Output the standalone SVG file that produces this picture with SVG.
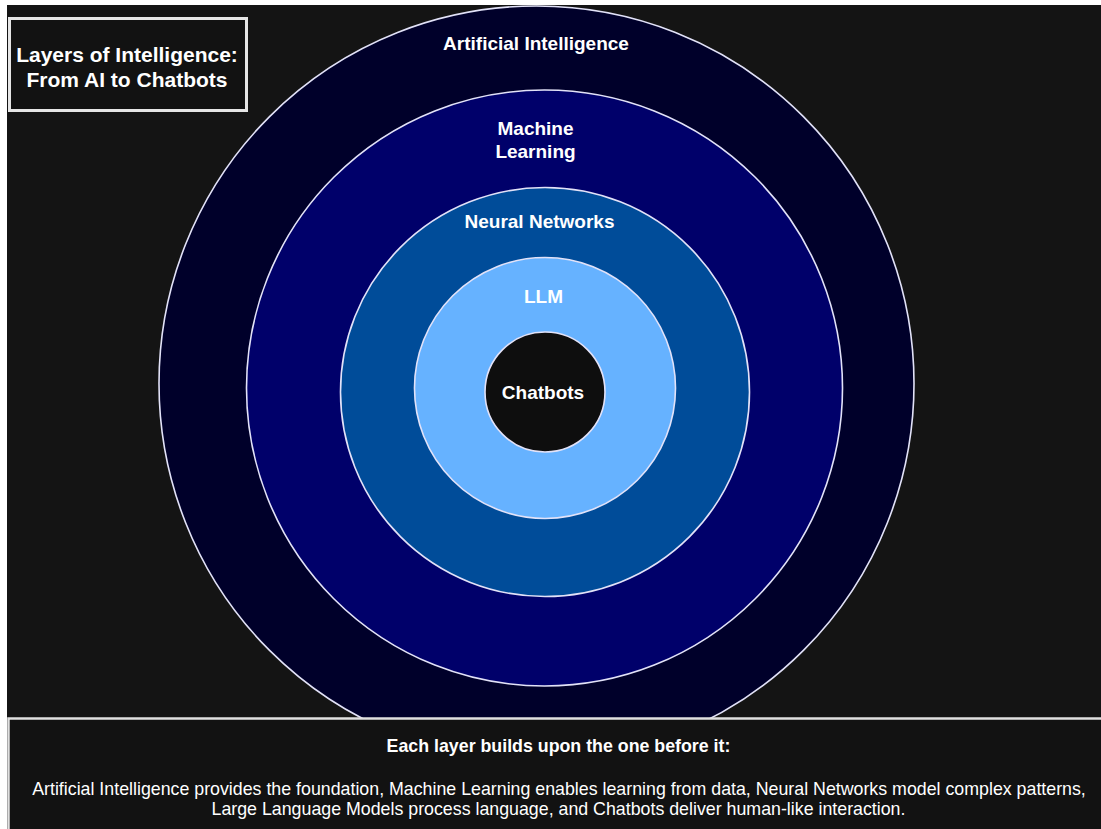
<svg xmlns="http://www.w3.org/2000/svg" width="1101" height="829" viewBox="0 0 1101 829">
  <style>
    .ring { stroke: #e2e2f8; stroke-width: 1.6; }
    .lbl { font-family: "Liberation Sans", Arial, sans-serif; font-weight: bold; font-size: 19px; fill: #ffffff; text-anchor: middle; }
    .title { font-family: "Liberation Sans", Arial, sans-serif; font-weight: bold; font-size: 21px; fill: #ffffff; text-anchor: middle; }
    .note { font-family: "Liberation Sans", Arial, sans-serif; font-size: 17.8px; fill: #ffffff; text-anchor: middle; }
    .box { fill: #121212; stroke: #e6e6e6; stroke-width: 3; }
  </style>

  <!-- page and canvas -->
  <rect x="0" y="0" width="1101" height="829" fill="#ffffff"/>
  <rect x="7" y="5" width="1094" height="824" fill="#141414"/>

  <!-- nested layers, outermost first -->
  <g id="artificial-intelligence">
    <circle class="ring" cx="536.5" cy="383.5" r="377.5" fill="#00002a"/>
    <text class="lbl" x="536" y="50">Artificial Intelligence</text>
  </g>

  <g id="machine-learning">
    <circle class="ring" cx="544.5" cy="388" r="298" fill="#00006a"/>
    <text class="lbl" x="535.5" y="135">Machine</text>
    <text class="lbl" x="535.5" y="158">Learning</text>
  </g>

  <g id="neural-networks">
    <circle class="ring" cx="545" cy="392" r="204.5" fill="#004c99"/>
    <text class="lbl" x="539.5" y="228">Neural Networks</text>
  </g>

  <g id="llm">
    <circle class="ring" cx="545" cy="388" r="130.5" fill="#66b2ff"/>
    <text class="lbl" x="543.5" y="302.5">LLM</text>
  </g>

  <g id="chatbots">
    <circle class="ring" cx="545" cy="392" r="60" fill="#0e0e0e"/>
    <text class="lbl" x="543" y="399">Chatbots</text>
  </g>

  <!-- title card -->
  <g id="title">
    <rect class="box" x="9.5" y="18.5" width="237" height="92"/>
    <text class="title" x="127" y="62">Layers of Intelligence:</text>
    <text class="title" x="127" y="87">From AI to Chatbots</text>
  </g>

  <!-- summary panel along the bottom -->
  <g id="summary">
    <rect x="8.5" y="718.5" width="1110" height="130" fill="#121212" stroke="#e0e0e0" stroke-width="2.5"/>
    <text class="note" x="558.5" y="752" font-weight="bold">Each layer builds upon the one before it:</text>
    <text class="note" x="559" y="795">Artificial Intelligence provides the foundation, Machine Learning enables learning from data, Neural Networks model complex patterns,</text>
    <text class="note" x="558.5" y="815">Large Language Models process language, and Chatbots deliver human-like interaction.</text>
  </g>
</svg>
